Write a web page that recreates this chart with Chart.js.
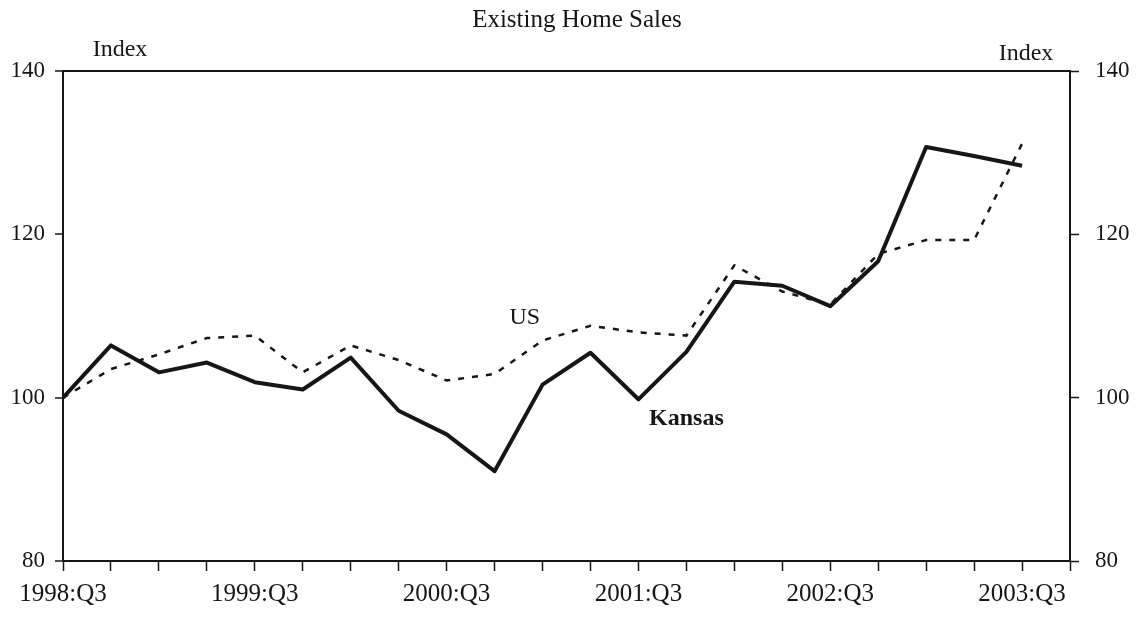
<!DOCTYPE html>
<html>
<head>
<meta charset="utf-8">
<script src="https://cdn.jsdelivr.net/npm/chart.js@4.4.1/dist/chart.umd.min.js"></script>
<style>
  html, body { margin: 0; padding: 0; background: #fff; }
  #wrap { width: 1141px; height: 618px; position: relative; }
</style>
</head>
<body>
<div id="wrap"><canvas id="chart"></canvas></div>
<script>
/* Existing Home Sales — Kansas vs US index, quarterly 1998:Q3 – 2003:Q3 */
const INK = "#161616";
const SERIF = "'Liberation Serif', 'Times New Roman', serif";

const quarters = ["1998:Q3", "1998:Q4", "1999:Q1", "1999:Q2", "1999:Q3", "1999:Q4", "2000:Q1",
  "2000:Q2", "2000:Q3", "2000:Q4", "2001:Q1", "2001:Q2", "2001:Q3", "2001:Q4", "2002:Q1",
  "2002:Q2", "2002:Q3", "2002:Q4", "2003:Q1", "2003:Q2", "2003:Q3"];
const labelEvery = 4;
const kansas = [100, 106.4, 103.1, 104.3, 101.9, 101.0, 104.9, 98.4, 95.5, 91.0, 101.6,
  105.5, 99.8, 105.6, 114.2, 113.7, 111.2, 116.7, 130.7, 129.6, 128.4];
const us = [100, 103.5, 105.3, 107.3, 107.6, 103.1, 106.4, 104.6, 102.1, 102.9, 107.0,
  108.8, 108.0, 107.6, 116.2, 113.0, 111.4, 117.6, 119.3, 119.3, 131.1];
const yTicks = [80, 100, 120, 140];
const notes = [
  { text: "US", x: 9.63, y: 109.8, bold: false },
  { text: "Kansas", x: 13.0, y: 97.4, bold: true },
];

const pts = (arr) => arr.map((v, i) => ({ x: i, y: v }));

// title, "Index" captions, series names
const textPlugin = {
  id: "texts",
  afterDraw(chart) {
    const { ctx, scales } = chart;
    ctx.save();
    ctx.fillStyle = INK;
    ctx.textBaseline = "middle";
    ctx.textAlign = "center";
    ctx.font = `25px ${SERIF}`;
    ctx.fillText("Existing Home Sales", 577, 20);
    ctx.font = `24px ${SERIF}`;
    ctx.fillText("Index", 120, 50);
    ctx.fillText("Index", 1026, 54);
    notes.forEach((n) => {
      ctx.font = `${n.bold ? "bold " : ""}24px ${SERIF}`;
      ctx.fillText(n.text, scales.x.getPixelForValue(n.x), scales.y.getPixelForValue(n.y));
    });
    ctx.restore();
  },
};

new Chart(document.getElementById("chart"), {
  type: "line",
  data: {
    datasets: [
      { label: "US", data: pts(us), borderColor: INK, borderWidth: 2.5, borderDash: [6, 8],
        pointRadius: 0, tension: 0, yAxisID: "y" },
      { label: "Kansas", data: pts(kansas), borderColor: INK, borderWidth: 4,
        pointRadius: 0, tension: 0, yAxisID: "y", borderJoinStyle: "round" },
    ],
  },
  options: {
    responsive: true, maintainAspectRatio: false, animation: false,
    layout: { padding: { top: 71, right: 0, left: 0, bottom: 0 } },
    plugins: { legend: { display: false }, tooltip: { enabled: false } },
    scales: {
      x: {
        type: "linear", min: 0, max: quarters.length,
        afterFit: (s) => { s.height = 57; },
        afterBuildTicks: (s) => { s.ticks = Array.from({ length: quarters.length + 1 }, (_, i) => ({ value: i })); },
        ticks: { color: INK, font: { family: SERIF, size: 25 }, padding: 8, maxRotation: 0, autoSkip: false,
          callback: (v) => (v % labelEvery === 0 && v < quarters.length ? quarters[v] : "") },
        grid: { drawOnChartArea: false, drawTicks: true, tickLength: 10, tickColor: INK, tickWidth: 1.5 },
        border: { color: INK, width: 2 },
      },
      y: {
        position: "left", min: 80, max: 140,
        afterFit: (s) => { s.width = 63; },
        afterBuildTicks: (s) => { s.ticks = yTicks.map((v) => ({ value: v })); },
        ticks: { color: INK, font: { family: SERIF, size: 23 }, padding: 10 },
        grid: { drawTicks: true, tickLength: 8, tickColor: INK, tickWidth: 1.5,
          color: (c) => (c.tick && c.tick.value === 140 ? INK : "rgba(0,0,0,0)"), lineWidth: 2 },
        border: { color: INK, width: 2 },
      },
      y2: {
        position: "right", min: 80, max: 140,
        afterFit: (s) => { s.width = 71; },
        afterBuildTicks: (s) => { s.ticks = yTicks.map((v) => ({ value: v })); },
        ticks: { color: INK, font: { family: SERIF, size: 23 }, padding: 16 },
        grid: { drawOnChartArea: false, drawTicks: true, tickLength: 9, tickColor: INK, tickWidth: 1.5 },
        border: { color: INK, width: 2 },
      },
    },
  },
  plugins: [textPlugin],
});
</script>
</body>
</html>
